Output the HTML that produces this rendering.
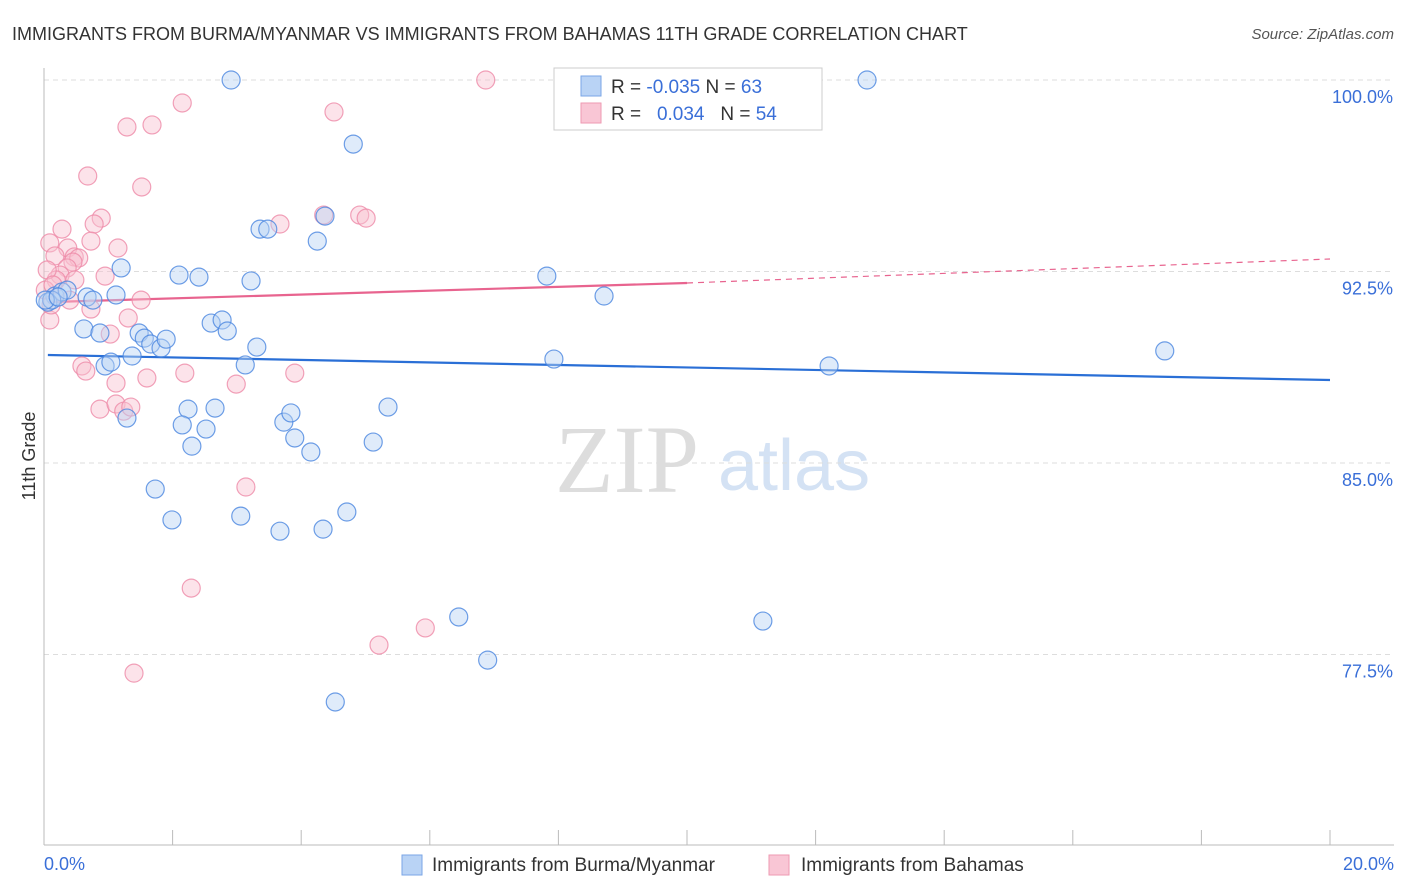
<!DOCTYPE html>
<html><head><meta charset="utf-8"><style>
body{margin:0;background:#fff;font-family:"Liberation Sans",sans-serif}
svg{display:block}
</style></head><body>
<svg id="chart" width="1406" height="892">
<text x="12" y="40" font-size="18" fill="#333">IMMIGRANTS FROM BURMA/MYANMAR VS IMMIGRANTS FROM BAHAMAS 11TH GRADE CORRELATION CHART</text>
<text x="1394" y="39" font-size="15" fill="#555" font-style="italic" text-anchor="end">Source: ZipAtlas.com</text>
<text x="35" y="456" font-size="18" fill="#333" text-anchor="middle" transform="rotate(-90 35 456)">11th Grade</text>
<g>
<text x="555" y="492" font-size="96" font-family="Liberation Serif,serif" fill="#ddd">ZIP</text>
<text x="718" y="490" font-size="72" fill="#d4e2f4">atlas</text>
</g>
<g id="grid"></g><g id="axes"></g><g id="trend"></g><g id="pts"></g>
<g>
<rect x="554" y="68" width="268" height="62" fill="#fff" stroke="#ccc"/>
<rect x="581" y="76" width="20" height="20" fill="#b9d3f5" stroke="#7aa6e6"/>
<rect x="581" y="103" width="20" height="20" fill="#f9c6d5" stroke="#ee9ab2"/>
<text x="611" y="93" font-size="19" fill="#333">R = <tspan fill="#3a6fd8">-0.035</tspan>   N = <tspan fill="#3a6fd8">63</tspan></text>
<text x="611" y="120" font-size="19" fill="#333" xml:space="preserve">R =   <tspan fill="#3a6fd8">0.034</tspan>   N = <tspan fill="#3a6fd8">54</tspan></text>
</g>
<g>
<rect x="402" y="855" width="20" height="20" fill="#b9d3f5" stroke="#7aa6e6"/>
<text x="432" y="871" font-size="19" fill="#333">Immigrants from Burma/Myanmar</text>
<rect x="769" y="855" width="20" height="20" fill="#f9c6d5" stroke="#ee9ab2"/>
<text x="801" y="871" font-size="19" fill="#333">Immigrants from Bahamas</text>
</g>
</svg>
<script>
const yTicks=[100,92.5,85,77.5];
const yTickLabels=["100.0%","92.5%","85.0%","77.5%"];
const xTickLabels=["0.0%","20.0%"];
const blueX=[2.91,12.80,4.81,3.36,3.48,4.25,4.37,1.20,2.10,2.41,3.22,7.82,8.71,0.17,0.28,0.36,0.67,0.76,1.12,0.06,0.12,0.62,0.87,1.48,1.56,1.66,1.82,1.90,2.60,2.77,2.85,3.31,3.13,1.37,0.95,1.04,7.93,12.21,17.43,2.24,2.66,2.15,2.52,2.30,1.29,3.73,3.84,3.90,4.15,5.12,5.35,1.73,1.99,3.06,3.67,4.34,4.71,6.45,6.90,11.18,4.53,0.02,0.22];
const blueY=[100,100,97.49,94.16,94.16,93.69,94.67,92.64,92.36,92.28,92.13,92.32,91.54,91.54,91.70,91.77,91.50,91.38,91.58,91.30,91.38,90.25,90.09,90.09,89.89,89.66,89.50,89.85,90.48,90.60,90.17,89.54,88.84,89.19,88.80,88.95,89.07,88.80,89.39,87.11,87.15,86.49,86.33,85.66,86.76,86.60,86.96,85.98,85.43,85.82,87.19,83.98,82.77,82.92,82.33,82.41,83.08,78.97,77.28,78.81,75.64,91.38,91.50];
const pinkX=[6.87,2.15,4.51,1.29,1.68,0.68,1.52,0.89,0.78,3.67,4.35,4.91,5.01,0.28,0.09,0.73,1.15,0.37,0.17,0.47,0.54,0.45,0.36,0.25,0.19,0.48,0.95,1.51,0.73,1.31,1.03,0.09,2.19,0.59,0.65,1.60,2.99,3.90,1.12,0.87,1.12,1.24,1.35,3.14,2.29,5.21,5.93,1.40,0.40,0.02,0.11,0.05,0.14];
const pinkY=[100,99.10,98.75,98.16,98.24,96.24,95.81,94.59,94.36,94.36,94.71,94.71,94.59,94.16,93.62,93.69,93.42,93.42,93.11,93.07,93.03,92.87,92.64,92.36,92.17,92.17,92.32,91.38,91.03,90.68,90.05,90.60,88.52,88.80,88.60,88.33,88.09,88.52,88.13,87.11,87.31,87.03,87.19,84.06,80.10,77.87,78.54,76.77,91.38,91.77,91.19,92.56,91.97];
const blueTrend=[0.06,89.23,20,88.25];
const pinkTrend=[0.06,91.30,10,92.05,20,92.99];
const NS="http://www.w3.org/2000/svg";
const sx=v=>44+v/20*1286;
const sy=v=>80+(100-v)/7.5*191.5;
function mk(tag,attrs,parent){const e=document.createElementNS(NS,tag);for(const k in attrs)e.setAttribute(k,attrs[k]);document.getElementById(parent).appendChild(e);return e;}
yTicks.forEach((t,i)=>{
 const l=mk('line',{x1:44,x2:1394,y1:sy(t),y2:sy(t),stroke:'#ddd','stroke-dasharray':'5,4'},'grid');
 
 
 const tx=mk('text',{x:1393,y:sy(t)+23,'font-size':18,fill:'#3a6fd8','text-anchor':'end'},'grid');
 tx.textContent=yTickLabels[i];
 
 
});
let a=mk('line',{x1:44,x2:44,y1:68,y2:845,stroke:'#bbb'},'axes');


a=mk('line',{x1:44,x2:1394,y1:845,y2:845,stroke:'#bbb'},'axes');


for(let i=0;i<=10;i++){const t=mk('line',{x1:sx(i*2),x2:sx(i*2),y1:830,y2:845,stroke:'#bbb'},'axes');
 
 }
[[0,'start',44],[20,'end',1394]].forEach((d,i)=>{const t=mk('text',{x:d[2],y:870,'font-size':18,fill:'#3a6fd8','text-anchor':d[1]},'axes');t.textContent=xTickLabels[i];
 
 });
function drawPts(X,Y,fill,stroke,name){X.forEach((x,i)=>{const c=mk('circle',{cx:sx(x),cy:sy(Y[i]),r:9,fill:fill,'fill-opacity':0.45,stroke:stroke,'stroke-width':1.2,'stroke-opacity':0.8},'pts');
 
 });}
drawPts(pinkX,pinkY,'#f9c0d0','#ee8aa8','bahamas-point');
drawPts(blueX,blueY,'#b9d3f5','#4a86e0','burma-point');
let tl=mk('line',{x1:sx(blueTrend[0]),y1:sy(blueTrend[1]),x2:sx(blueTrend[2]),y2:sy(blueTrend[3]),stroke:'#2a6fd6','stroke-width':2.2},'trend');


tl=mk('line',{x1:sx(pinkTrend[0]),y1:sy(pinkTrend[1]),x2:sx(pinkTrend[2]),y2:sy(pinkTrend[3]),stroke:'#e8648f','stroke-width':2.2},'trend');


tl=mk('line',{x1:sx(pinkTrend[2]),y1:sy(pinkTrend[3]),x2:sx(pinkTrend[4]),y2:sy(pinkTrend[5]),stroke:'#e8648f','stroke-width':1.2,'stroke-dasharray':'6,5'},'trend');


</script>
</body></html>
